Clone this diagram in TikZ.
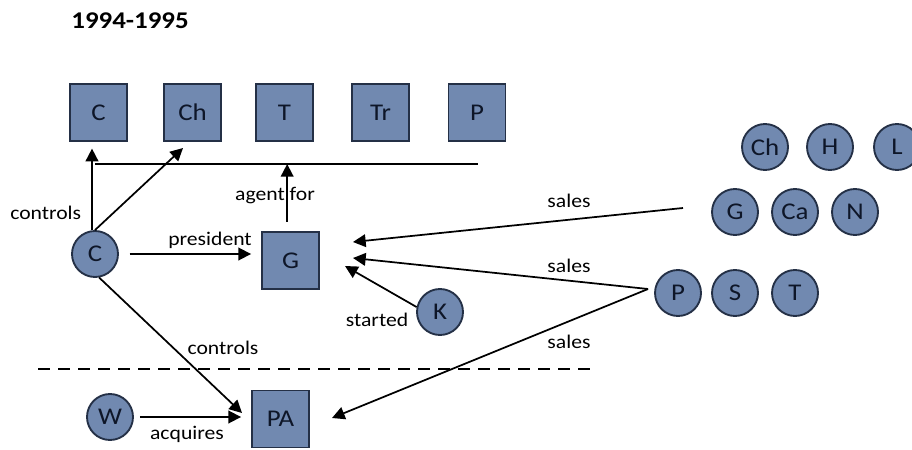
\documentclass[tikz,border=0pt]{standalone}
\usepackage{fontspec}
\setmainfont{Carlito}[FakeStretch=1.12]
\usetikzlibrary{arrows.meta}
\definecolor{boxfill}{RGB}{113,137,176}
\definecolor{boxline}{RGB}{36,48,70}
\definecolor{ink}{RGB}{14,22,40}
\tikzset{
  entity/.style={draw=boxline, fill=boxfill, line width=1.4pt, minimum size=42.75pt,
    inner sep=0pt, text=ink, font=\fontsize{18}{20}\selectfont},
  person/.style={circle, draw=boxline, fill=boxfill, line width=1.4pt, minimum size=34.5pt,
    inner sep=0pt, text=ink, font=\fontsize{18}{20}\selectfont},
  arr/.style={line width=1.3pt, -{Triangle[length=9.5pt,width=9.5pt]}},
  plain/.style={line width=1.3pt},
  lbl/.style={font=\fontsize{14.5}{16}\selectfont, inner sep=0pt}
}
\begin{document}
\begin{tikzpicture}[x=0.75pt,y=-0.75pt]
\useasboundingbox (0,0) rectangle (912,449);
\clip (0,0) rectangle (912,449);

% heading
\node[font=\bfseries\fontsize{18}{20}\selectfont, inner sep=0pt] (title) at (130,21) {1994-1995};

% companies in the top row
\node[entity] (sqC)  at (98.5,112.5) {C};
\node[entity] (sqCh) at (192.5,112.5) {Ch};
\node[entity] (sqT)  at (284.5,112.5) {T};
\node[entity] (sqTr) at (380.5,112.5) {Tr};
\node[entity] (sqP)  at (477,112.5) {P};

% central actors
\node[entity] (sqG)  at (290.5,260.5) {G};
\node[entity] (sqPA) at (280.5,419) {PA};
\node[person] (cC) at (95,254) {C};
\node[person] (cW) at (110,417) {W};
\node[person] (cK) at (440,312) {K};

% buyers on the right
\node[person] (rCh) at (765,147) {Ch};
\node[person] (rH)  at (830,147) {H};
\node[person] (rL)  at (897,147) {L};
\node[person] (rG)  at (735,212) {G};
\node[person] (rCa) at (795,212) {Ca};
\node[person] (rN)  at (855,212) {N};
\node[person] (rP)  at (678,293) {P};
\node[person] (rS)  at (735,293) {S};
\node[person] (rT)  at (795,293) {T};

% bar under the top row
\coordinate (barL) at (95,164);
\coordinate (barR) at (478,164);
\draw[plain] (barL) -- (barR);

% dashed divider
\coordinate (divL) at (38,369);
\coordinate (divR) at (594,369);
\draw[line width=1.1pt, dash pattern=on 9pt off 6pt] (divL) -- (divR);

% free ends of connectors
\coordinate (chTip) at (183,148);
\coordinate (paTip) at (242,413);
\coordinate (kTip)  at (345,266);
\coordinate (gTipA) at (353,242);
\coordinate (gTipB) at (353,258);
\coordinate (paTipB) at (332,418);
\coordinate (gOut)  at (683,208);
\coordinate (pOut)  at (648,289);

% connectors
\draw[arr, shorten >=5pt] ([xshift=-2.25pt]cC.north) -- ([xshift=-2.25pt]cC.north |- sqC.south);
\draw[arr] (cC.north) -- (chTip);
\draw[arr, shorten <=7pt] ([xshift=-2.5pt]sqG.north) -- ([xshift=-2.5pt]sqG.north |- barL);
\draw[arr, shorten <=8pt, shorten >=7.5pt] (cC) -- (cC -| sqG.west);
\draw[arr] (cC.-80) -- (paTip);
\draw[arr, shorten <=4.5pt, shorten >=7.5pt] (cW) -- (cW -| sqPA.west);
\draw[arr] (cK.168) -- (kTip);
\draw[arr] (gOut) -- (gTipA);
\draw[arr] (pOut) -- (gTipB);
\draw[arr] (pOut) -- (paTipB);

% connector labels
\node[lbl, anchor=west] (lCtl1) at (10,213) {controls};
\node[lbl] (lPres) at (210,240) {president};
\node[lbl] (lAgent) at (275,196) {agent for};
\node[lbl] (lCtl2) at (223,348) {controls};
\node[lbl] (lAcq) at (187,434) {acquires};
\node[lbl] (lStart) at (377,320) {started};
\node[lbl] (lS1) at (569,201) {sales};
\node[lbl] (lS2) at (569,266) {sales};
\node[lbl] (lS3) at (569,342) {sales};
\end{tikzpicture}
\end{document}
